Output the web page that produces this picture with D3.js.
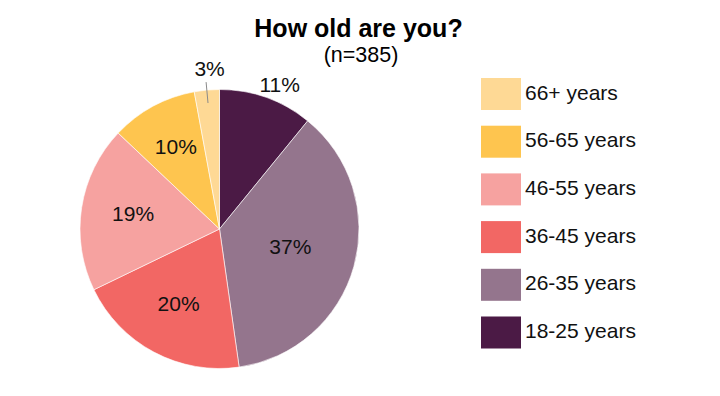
<!DOCTYPE html>
<html>
<head>
<meta charset="utf-8">
<script src="https://cdn.jsdelivr.net/npm/d3@7"></script>
<style>
  html, body { margin: 0; padding: 0; background: #fff; }
  svg { display: block; font-family: "Liberation Sans", Arial, Helvetica, sans-serif; }
</style>
</head>
<body>
<svg id="chart" width="720" height="396"></svg>
<script>
// ---- data ----
const categories = ["18-25 years", "26-35 years", "36-45 years", "46-55 years", "56-65 years", "66+ years"];
const shares     = [10.9, 36.9, 20.1, 19.25, 10.05, 2.9];
const colors     = ["#4b1a45", "#94758d", "#f26764", "#f6a2a0", "#fec54f", "#fed995"];
const legendOrder = ["66+ years", "56-65 years", "46-55 years", "36-45 years", "26-35 years", "18-25 years"];
const title = "How old are you?";
const subtitle = "(n=385)";

const svg = d3.select("#chart");
const cx = 219.5, cy = 229, R = 139.5;

svg.append("text").attr("x", 358.5).attr("y", 37).attr("text-anchor", "middle")
  .attr("font-size", 25).attr("font-weight", "bold").attr("fill", "#000").text(title);
svg.append("text").attr("x", 361).attr("y", 62).attr("text-anchor", "middle")
  .attr("font-size", 21.5).attr("fill", "#000").text(subtitle);

const data = categories.map((c, i) => ({ cat: c, value: shares[i], color: colors[i] }));
const pie = d3.pie().value(d => d.value).sort(null);
const arcs = pie(data);
const arc = d3.arc().innerRadius(0).outerRadius(R);

const g = svg.append("g").attr("transform", `translate(${cx},${cy})`);
g.selectAll("path").data(arcs).join("path")
  .attr("d", arc)
  .attr("fill", d => d.data.color)
  .attr("stroke", "#fff").attr("stroke-width", 0.6);

const polar = (a, r) => [r * Math.sin(a), -r * Math.cos(a)];

arcs.forEach((d, i) => {
  const mid = (d.startAngle + d.endAngle) / 2;
  const alpha = d.endAngle - d.startAngle;
  const label = Math.round(d.data.value) + "%";
  if (d.data.value < 5) {
    // small slice: leader line + label above
    const p1 = polar(mid, R - 13), p2 = polar(mid, R + 8);
    g.append("line").attr("x1", p1[0]).attr("y1", p1[1]).attr("x2", p2[0]).attr("y2", p2[1])
      .attr("stroke", "#8a8a8a").attr("stroke-width", 1);
    const t = polar(mid, R + 14);
    g.append("text").attr("x", t[0] + 4).attr("y", t[1]).attr("text-anchor", "middle")
      .attr("font-size", 21).attr("fill", "#111").text(label);
  } else if (i === 0) {
    // dark slice: label outside
    const t = polar(mid, R + 16);
    g.append("text").attr("x", t[0] + 8).attr("y", t[1] + 9.5).attr("text-anchor", "middle")
      .attr("font-size", 21).attr("fill", "#111").text(label);
  } else {
    // centroid of sector
    const rc = 4 * R * Math.sin(alpha / 2) / (3 * alpha);
    const t = polar(mid, rc);
    g.append("text").attr("x", t[0]).attr("y", t[1] + 5).attr("text-anchor", "middle")
      .attr("font-size", 21).attr("fill", "#111").text(label);
  }
});

// ---- legend ----
const colorOf = d3.scaleOrdinal().domain(categories).range(colors);
const ly = d3.scalePoint().domain(legendOrder).range([78, 316.5]);
const lg = svg.append("g");
const items = lg.selectAll("g").data(legendOrder).join("g")
  .attr("transform", d => `translate(481,${ly(d)})`);
items.append("rect").attr("width", 40).attr("height", 32).attr("fill", d => colorOf(d));
items.append("text").attr("x", 44).attr("y", 21.5)
  .attr("font-size", 21).attr("fill", "#111").text(d => d);
</script>
</body>
</html>
